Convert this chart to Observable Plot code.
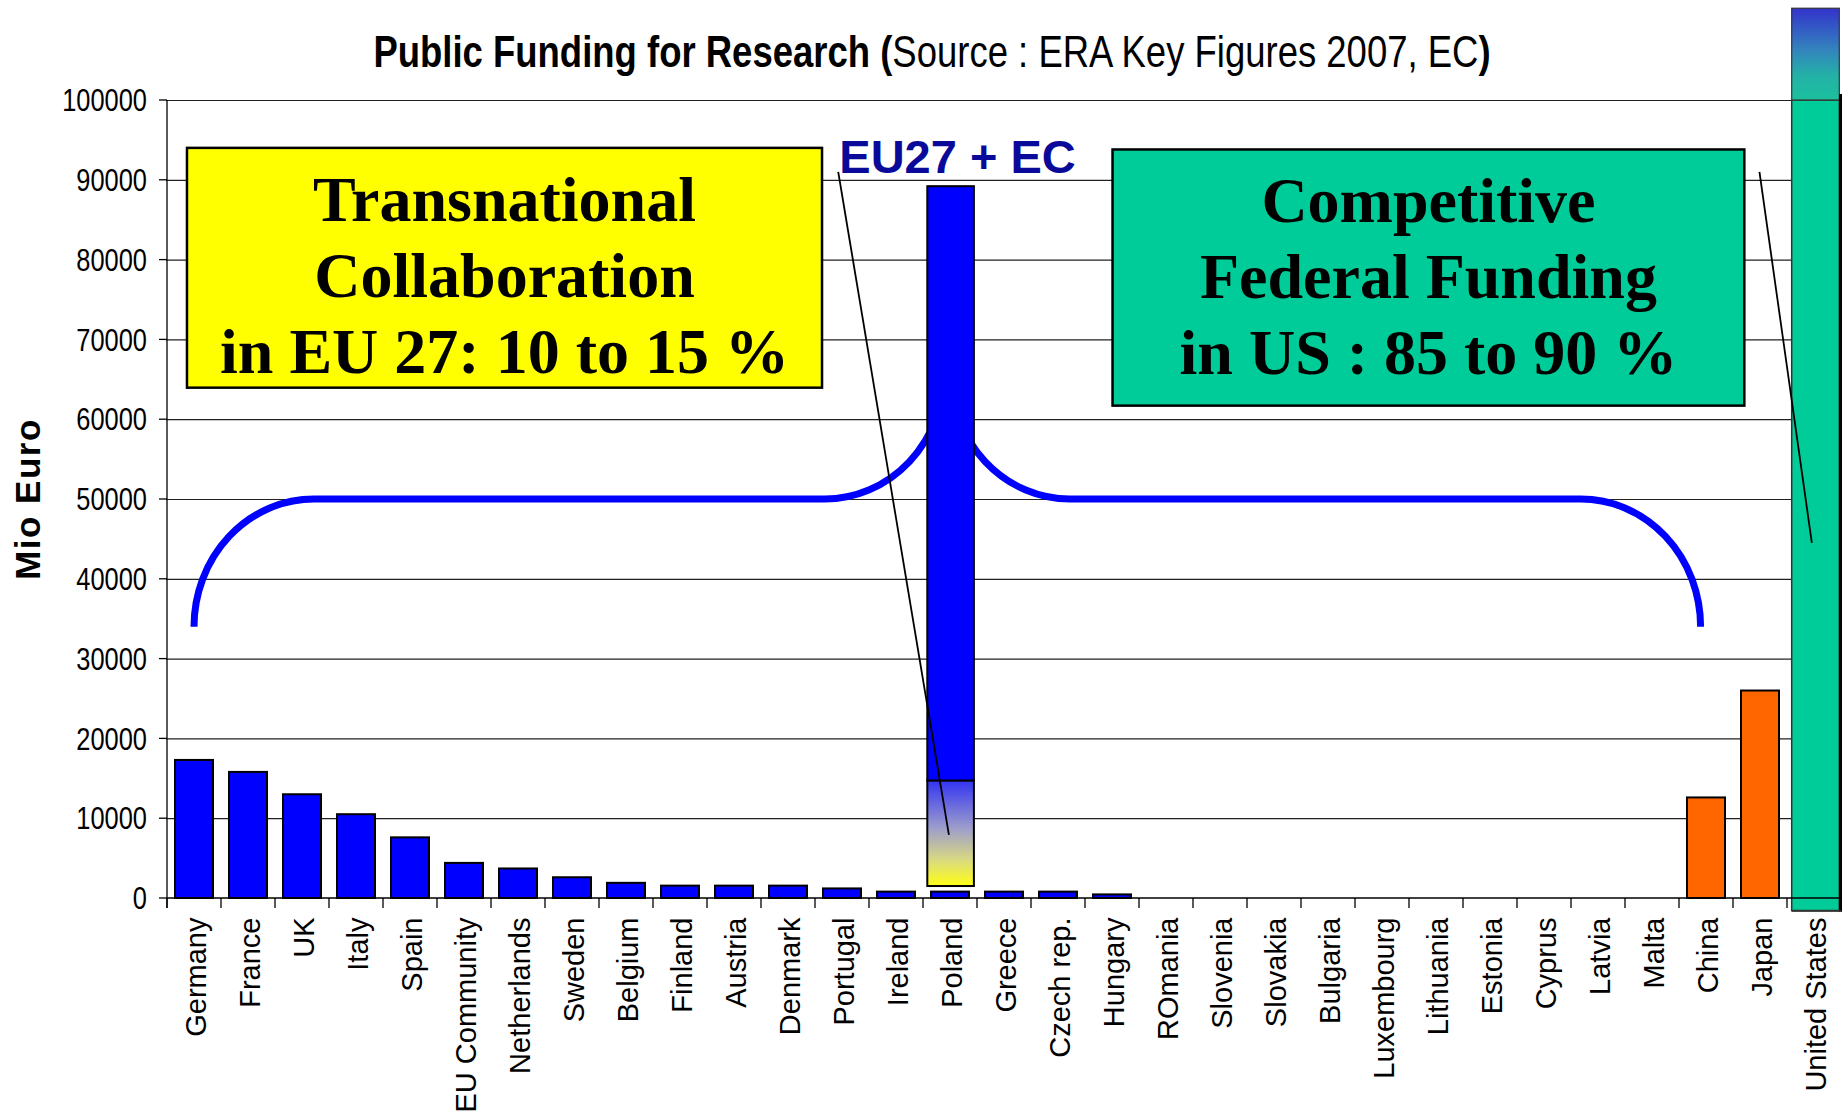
<!DOCTYPE html>
<html><head><meta charset="utf-8">
<script src="https://cdn.jsdelivr.net/npm/d3@7"></script>
<script src="https://cdn.jsdelivr.net/npm/@observablehq/plot@0.6"></script>
<style>
html,body{margin:0;padding:0;background:#fff;}
#chart{width:1848px;height:1120px;position:relative;}
</style></head><body><div id="chart"></div>
<script>
// ---------- data ----------
const countries = ["Germany","France","UK","Italy","Spain","EU Community","Netherlands","Sweden","Belgium","Finland","Austria","Denmark","Portugal","Ireland","Poland","Greece","Czech rep.","Hungary","ROmania","Slovenia","Slovakia","Bulgaria","Luxembourg","Lithuania","Estonia","Cyprus","Latvia","Malta","China","Japan","United States"];
const funding = [17300,15800,13000,10500,7600,4400,3700,2600,1900,1550,1550,1550,1200,800,800,800,800,450,0,0,0,0,0,0,0,0,0,0,12600,26000,111500];
const asiaCountries = ["China","Japan"];
const usCountry = "United States";
const yTicks = [0,10000,20000,30000,40000,50000,60000,70000,80000,90000,100000];
// EU27 + EC aggregate bar (drawn on the Poland slot)
const euSlot = "Poland";
const euBase = 1500, euSplit = 14700, euTotal = 89200;
const yMax = 100000;

// annotation texts
const titleBold = "Public Funding for Research (";
const titleSource = "Source : ERA Key Figures 2007, EC";
const titleClose = ")";
const yLabel = "Mio Euro";
const euLabel = "EU27 + EC";
const boxLines1 = ["Transnational","Collaboration","in EU 27: 10 to 15 %"];
const boxLines2 = ["Competitive","Federal Funding","in US : 85 to 90 %"];

const data = countries.map((c, i) => ({country: c, value: funding[i]}));
const colorOf = c => c === usCountry ? "#00CC99" : asiaCountries.includes(c) ? "#FF6600" : "#0000FF";

const W = 1848, H = 1120, mL = 166, mR = 7, mT = 100, mB = 222;
const SANS = "'Liberation Sans',Arial,sans-serif";

function helpers(scales) {
  const x = scales.x, y = scales.y;
  const x0 = x(countries[0]);
  const step = x(countries[1]) - x0;
  return {X: u => x0 + u * step, Y: v => y(v), step, x, y, x0};
}

// gradients
function defs() {
  const d = d3.create("svg:defs");
  const g1 = d.append("linearGradient").attr("id","euGrad").attr("x1",0).attr("y1",0).attr("x2",0).attr("y2",1);
  [["0%","#3434f2"],["45%","#9d9dcc"],["75%","#d9d982"],["100%","#ffff14"]].forEach(([o,c]) => g1.append("stop").attr("offset",o).attr("stop-color",c));
  const g2 = d.append("linearGradient").attr("id","usGrad").attr("x1",0).attr("y1",0).attr("x2",0).attr("y2",1);
  [["0%","#3333cc"],["45%","#3383bd"],["75%","#22b3a6"],["100%","#1cc09f"]].forEach(([o,c]) => g2.append("stop").attr("offset",o).attr("stop-color",c));
  return d.node();
}

function brace(index, scales) {
  const {X, Y, step} = helpers(scales);
  const rx = 2.22 * step, ry = Y(34000) - Y(50000);
  const p = `M${X(0.5)},${Y(34000)} A${rx},${ry} 0 0 1 ${X(2.72)},${Y(50000)} L${X(12.18)},${Y(50000)} A${rx},${ry} 0 0 0 ${X(14.4)},${Y(66000)}`
    + ` M${X(14.5)},${Y(66000)} A${rx},${ry} 0 0 0 ${X(16.72)},${Y(50000)} L${X(26.18)},${Y(50000)} A${rx},${ry} 0 0 1 ${X(28.4)},${Y(34000)}`;
  const g = d3.create("svg:path").attr("d", p).attr("fill","none").attr("stroke","#0000FF").attr("stroke-width",7);
  return g.node();
}

function axes(index, scales) {
  const {X, Y} = helpers(scales);
  const g = d3.create("svg:g").attr("stroke","#000").attr("stroke-width",1.3);
  g.append("line").attr("x1",X(0)).attr("x2",X(0)).attr("y1",Y(yMax)).attr("y2",Y(0)+10);
  g.append("line").attr("x1",X(0)).attr("x2",X(countries.length)).attr("y1",Y(0)).attr("y2",Y(0));
  yTicks.forEach(t => g.append("line").attr("x1",X(0)-8).attr("x2",X(0)).attr("y1",Y(t)).attr("y2",Y(t)));
  d3.range(countries.length + 1).forEach(i => g.append("line").attr("x1",X(i)).attr("x2",X(i)).attr("y1",Y(0)).attr("y2",Y(0)+10));
  return g.node();
}

// y tick labels in a condensed (Arial Narrow–like) style
function yTickLabels(index, scales) {
  const {X, Y} = helpers(scales);
  const g = d3.create("svg:g");
  yTicks.forEach(t => g.append("text")
    .attr("transform", `translate(${X(0) - 20},${Y(t)}) scale(0.82,1)`)
    .attr("text-anchor","end").attr("dy","0.36em")
    .attr("font-family", SANS).attr("font-size", 31).attr("fill","#000").text(String(t)));
  return g.node();
}

function boxes(index, scales) {
  const {X, Y} = helpers(scales);
  const g = d3.create("svg:g");
  const spec = [
    {lines: boxLines1, fill: "#FFFF00", u1: 0.37, u2: 12.13, v1: 94000, v2: 63950},
    {lines: boxLines2, fill: "#00CC99", u1: 17.51, u2: 29.21, v1: 93800, v2: 61700}
  ];
  spec.forEach(s => {
    const x1 = X(s.u1), x2 = X(s.u2), y1 = Y(s.v1), y2 = Y(s.v2);
    g.append("rect").attr("x",x1).attr("y",y1).attr("width",x2-x1).attr("height",y2-y1)
      .attr("fill",s.fill).attr("stroke","#000").attr("stroke-width",2.5);
    s.lines.forEach((t, i) => g.append("text").attr("x",(x1+x2)/2).attr("y",y1 + 73 + 76*i)
      .attr("text-anchor","middle").attr("font-family","'Liberation Serif','Times New Roman',serif")
      .attr("font-weight","bold").attr("font-size",64).attr("fill","#000").text(t));
  });
  return g.node();
}

function leaders(index, scales) {
  const {X, Y} = helpers(scales);
  const g = d3.create("svg:g").attr("stroke","#000").attr("stroke-width",1.8);
  [[12.43,91000,14.48,7900],[29.49,91000,30.46,44500]].forEach(([u1,v1,u2,v2]) =>
    g.append("line").attr("x1",X(u1)).attr("y1",Y(v1)).attr("x2",X(u2)).attr("y2",Y(v2)));
  return g.node();
}

function texts(index, scales) {
  const {X, Y} = helpers(scales);
  const g = d3.create("svg:g");
  const t = g.append("text").attr("transform", "translate(932,67) scale(0.82,1)").attr("text-anchor","middle")
    .attr("font-family", SANS).attr("font-size",44.5).attr("fill","#000");
  t.append("tspan").attr("font-weight","bold").text(titleBold);
  t.append("tspan").attr("font-weight","normal").text(titleSource);
  t.append("tspan").attr("font-weight","bold").text(titleClose);
  g.append("text").attr("transform",`translate(28,${(Y(0)+Y(yMax))/2}) rotate(-90)`)
    .attr("text-anchor","middle").attr("dy","0.35em")
    .attr("font-family", SANS).attr("font-weight","bold")
    .attr("font-size",35).attr("letter-spacing",1.5).attr("fill","#000").text(yLabel);
  g.append("text").attr("x", X(14.64)).attr("y", Y(90850)).attr("text-anchor","middle")
    .attr("font-family", SANS).attr("font-weight","bold")
    .attr("font-size",47).attr("fill","#0a0a9a").text(euLabel);
  return g.node();
}

function usShadow(index, scales) {
  const {X, Y} = helpers(scales);
  const g = d3.create("svg:g");
  g.append("line").attr("x1",X(countries.length)-0.5).attr("x2",X(countries.length)-0.5)
    .attr("y1",Y(100750)).attr("y2",Y(-1600)+1).attr("stroke","#000").attr("stroke-width",3);
  g.append("line").attr("x1",X(countries.length - 1) + 5).attr("x2",X(countries.length))
    .attr("y1",Y(-1600)).attr("y2",Y(-1600)).attr("stroke","#333").attr("stroke-width",2);
  return g.node();
}

const plainBars = data.filter(d => d.value > 0 && d.country !== usCountry);
const usRow = data.filter(d => d.country === usCountry);

const chart = Plot.plot({
  width: W, height: H,
  marginLeft: mL, marginRight: mR, marginTop: mT, marginBottom: mB,
  x: {type: "band", domain: countries, padding: 0, axis: null},
  y: {domain: [0, yMax], axis: null},
  style: {background: "#fff"},
  marks: [
    defs,
    Plot.ruleY(yTicks.slice(1), {stroke: "#222", strokeWidth: 1.2}),
    brace,
    Plot.barY(plainBars, {x: "country", y: "value", fill: d => colorOf(d.country), stroke: "#000", strokeWidth: 2, insetLeft: 8, insetRight: 8}),
    Plot.barY([{c: euSlot, lo: euSplit, hi: euTotal}], {x: "c", y1: "lo", y2: "hi", fill: "#0000FF", stroke: "#000", strokeWidth: 2, insetLeft: 4.3, insetRight: 3.1}),
    Plot.barY([{c: euSlot, lo: euBase, hi: euSplit}], {x: "c", y1: "lo", y2: "hi", fill: "url(#euGrad)", stroke: "#000", strokeWidth: 2, insetLeft: 4.3, insetRight: 3.1}),
    Plot.barY(usRow, {x: "country", y1: () => -1600, y2: () => yMax, fill: d => colorOf(d.country), stroke: "#333", strokeWidth: 1.5, insetLeft: 4.7, insetRight: 1.7}),
    Plot.barY(usRow, {x: "country", y1: () => yMax, y2: "value", fill: "url(#usGrad)", stroke: "#333", strokeWidth: 1.2, insetLeft: 4.7, insetRight: 1.7}),
    usShadow,
    axes,
    boxes,
    leaders,
    yTickLabels,
    Plot.text(countries, {x: d => d, frameAnchor: "bottom", rotate: -90, textAnchor: "end", lineAnchor: "middle", dy: 19, dx: 2,
      fontSize: 29, fontFamily: SANS, fill: "#000", style: "letter-spacing:0.6px"}),
    texts
  ]
});
chart.querySelectorAll("text").forEach(() => {});
document.getElementById("chart").appendChild(chart);
</script>
</body></html>
